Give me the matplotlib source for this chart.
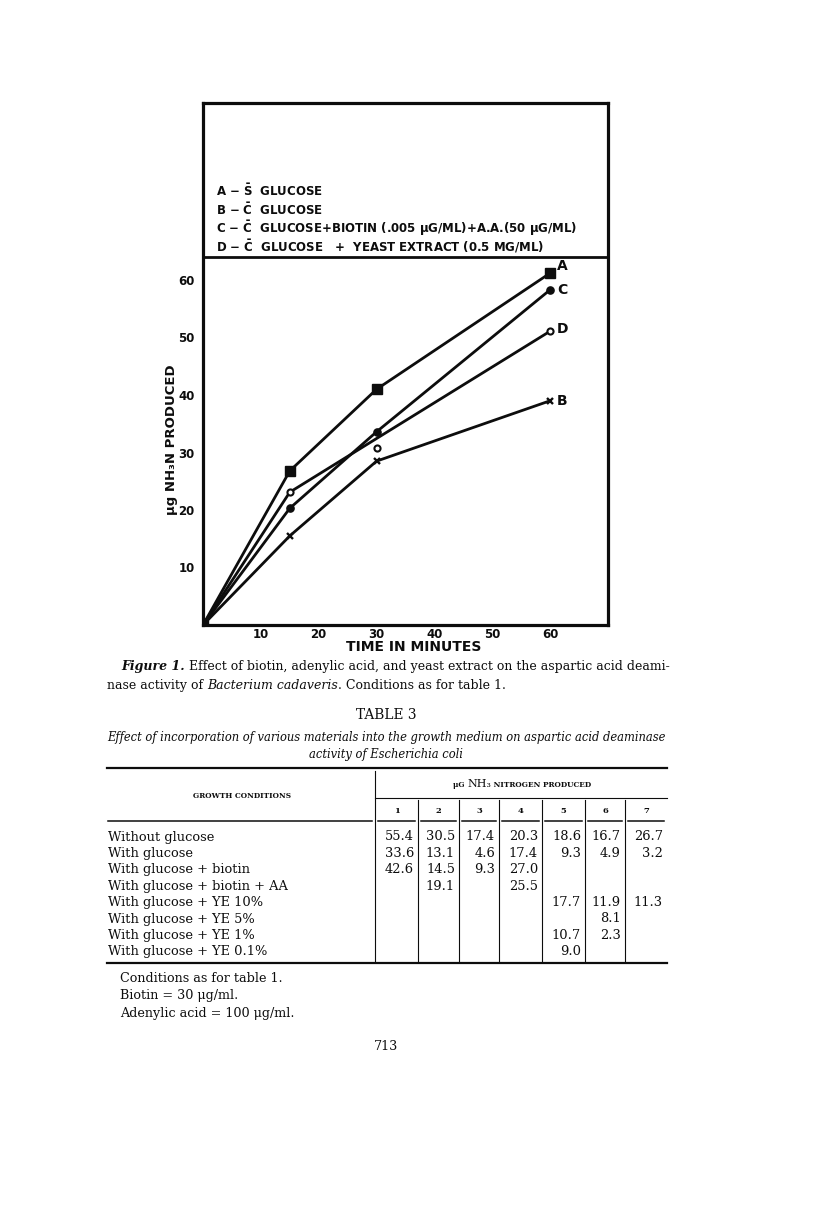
import matplotlib
matplotlib.use('Agg')
import matplotlib.pyplot as plt
from matplotlib.lines import Line2D

W, H = 816, 1215
INK = '#0d0d0d'

# ---- figure 1 data ----
time_min = [0, 15, 30, 60]
nh3_a = [0, 26.8, 41.0, 61.2]   # without glucose
nh3_b = [0, 15.5, 28.5, 39.0]   # with glucose
nh3_c = [0, 20.3, 33.6, 58.3]   # glucose + biotin + A.A.
nh3_d = [0, 23.1, 30.8, 51.1]   # glucose + yeast extract
d_line_idx = [0, 1, 3]          # the D curve is drawn past its 30 min point

x_ticks = [10, 20, 30, 40, 50, 60]
y_ticks = [10, 20, 30, 40, 50, 60]

S_BAR = r"$\mathbf{\bar{S}}$"
C_BAR = r"$\mathbf{\bar{C}}$"
legend_lines = [
    "A \u2212 " + S_BAR + "  GLUCOSE",
    "B \u2212 " + C_BAR + "  GLUCOSE",
    "C \u2212 " + C_BAR + "  GLUCOSE+BIOTIN (.005 \u03bcG/ML)+A.A.(50 \u03bcG/ML)",
    "D \u2212 " + C_BAR + "  GLUCOSE   +  YEAST EXTRACT (0.5 MG/ML)",
]

# ---- table 3 data ----
conditions = [
    "Without glucose",
    "With glucose",
    "With glucose + biotin",
    "With glucose + biotin + AA",
    "With glucose + YE 10%",
    "With glucose + YE 5%",
    "With glucose + YE 1%",
    "With glucose + YE 0.1%",
]
col_labels = ["1", "2", "3", "4", "5", "6", "7"]
values = [
    ["55.4", "30.5", "17.4", "20.3", "18.6", "16.7", "26.7"],
    ["33.6", "13.1", "4.6", "17.4", "9.3", "4.9", "3.2"],
    ["42.6", "14.5", "9.3", "27.0", "", "", ""],
    ["", "19.1", "", "25.5", "", "", ""],
    ["", "", "", "", "17.7", "11.9", "11.3"],
    ["", "", "", "", "", "8.1", ""],
    ["", "", "", "", "10.7", "2.3", ""],
    ["", "", "", "", "9.0", "", ""],
]
footnotes = ["Conditions as for table 1.",
             "Biotin = 30 \u03bcg/ml.",
             "Adenylic acid = 100 \u03bcg/ml."]

plt.rcParams['mathtext.fontset'] = 'dejavusans'


def px(x):
    return x / W


def py(y):
    return 1 - y / H


fig = plt.figure(figsize=(W / 100, H / 100), dpi=100)
fig.patch.set_facecolor('white')
renderer = fig.canvas.get_renderer()

SANS = 'DejaVu Sans'
SERIF = 'DejaVu Serif'

# ---------------- the chart ----------------
ax = fig.add_axes([px(203), py(625), px(608) - px(203), py(103) - py(625)])
ax.set_xlim(0, 70)
ax.set_ylim(0, 522 / 5.75)
for s in ax.spines.values():
    s.set_linewidth(2.3)
    s.set_color(INK)
ax.axhline(64, color=INK, lw=2.0)

lw = 2.0
ax.plot(time_min, nh3_a, color=INK, lw=lw, marker='s', ms=7, mfc=INK, mec=INK)
ax.plot(time_min, nh3_b, color=INK, lw=lw, marker='x', ms=5, mew=1.7, mec=INK)
ax.plot(time_min, nh3_c, color=INK, lw=lw, marker='o', ms=5.2, mfc=INK, mec=INK)
ax.plot([time_min[i] for i in d_line_idx], [nh3_d[i] for i in d_line_idx],
        color=INK, lw=lw)
ax.plot(time_min[1:], nh3_d[1:], ls='none', marker='o', ms=4.4, mfc='white',
        mec=INK, mew=1.5)

for lab, ys, dy in [("A", nh3_a, 1.2), ("C", nh3_c, 0), ("D", nh3_d, 0.4), ("B", nh3_b, 0)]:
    ax.annotate(lab, (time_min[-1], ys[-1] + dy), xytext=(5, 0),
                textcoords='offset points', ha='left', va='center',
                fontsize=10, fontweight='bold', family=SANS, color=INK)

ax.set_xticks(x_ticks)
ax.set_yticks(y_ticks)
ax.set_xticklabels([str(v) for v in x_ticks])
ax.set_yticklabels([str(v) for v in y_ticks])
ax.tick_params(axis='both', length=0, labelsize=8.5, colors=INK)
ax.tick_params(axis='x', pad=2)
ax.tick_params(axis='y', pad=6)
for t in ax.get_xticklabels() + ax.get_yticklabels():
    t.set_fontweight('bold')
    t.set_family(SANS)

for i, line in enumerate(legend_lines):
    fig.text(px(216), py(191 + i * 18.5), line, ha='left', va='center',
             fontsize=8.5, fontweight='bold', family=SANS, color=INK)

fig.text(px(172), py(440), "\u03bcg NH\u2083N PRODUCED", rotation=90,
         ha='center', va='center', fontsize=9.5, fontweight='bold',
         family=SANS, color=INK)
fig.text(px(414), py(647), "TIME IN MINUTES", ha='center', va='center',
         fontsize=10, fontweight='bold', family=SANS, color=INK)


# ---------------- text helpers ----------------
def run_width(parts):
    objs = [fig.text(0, 0, s, **kw) for s, kw in parts]
    w = sum(o.get_window_extent(renderer).width for o in objs)
    for o in objs:
        o.remove()
    return w


def put_runs(x, y, parts, ha='left'):
    objs = [fig.text(0, py(y), s, va='baseline', color=INK, **kw) for s, kw in parts]
    widths = [o.get_window_extent(renderer).width for o in objs]
    x0 = x - sum(widths) / 2 if ha == 'center' else x
    for o, w in zip(objs, widths):
        o.set_x(px(x0))
        x0 += w


def fitted(parts_fn, target):
    w = run_width(parts_fn(10))
    return 10 * target / w


# caption
def cap1(fs):
    return [("Figure 1.", dict(family=SERIF, style='italic', fontweight='bold', fontsize=fs)),
            (" Effect of biotin, adenylic acid, and yeast extract on the aspartic acid deami-",
             dict(family=SERIF, fontsize=fs))]


cfs = fitted(cap1, 670 - 121)
put_runs(121, 670, cap1(cfs))
put_runs(107, 689, [("nase activity of ", dict(family=SERIF, fontsize=cfs)),
                    ("Bacterium cadaveris", dict(family=SERIF, style='italic', fontsize=cfs)),
                    (". Conditions as for table 1.", dict(family=SERIF, fontsize=cfs))])

fig.text(px(386), py(715), "TABLE 3", ha='center', va='center', family=SERIF,
         fontsize=cfs * 1.1, color=INK)


def title1(fs):
    return [("Effect of incorporation of various materials into the growth medium on aspartic acid deaminase",
             dict(family=SERIF, style='italic', fontsize=fs))]


tfs = fitted(title1, 669 - 107)
put_runs(107, 741, title1(tfs))
put_runs(386, 758, [("activity of Escherichia coli",
                     dict(family=SERIF, style='italic', fontsize=tfs))], ha='center')


# ---------------- table ----------------
def hline(x0, x1, y, lw=0.8):
    fig.add_artist(Line2D([px(x0), px(x1)], [py(y), py(y)], color=INK, lw=lw))


def vline(x, y0, y1, lw=0.8):
    fig.add_artist(Line2D([px(x), px(x)], [py(y0), py(y1)], color=INK, lw=lw))


left, right = 107, 667
divider = 375
col_edges = [375, 418, 459, 499, 542, 585, 625, 667]
row_y0, row_dy = 837, 16.4

hline(left, right, 768, lw=1.6)
hline(left, right, 963, lw=1.6)
vline(divider, 771, 962)
hline(divider, right, 798)
hline(left + 1, divider - 3, 821, lw=1.1)
for j in range(len(col_labels)):
    a, b = col_edges[j], col_edges[j + 1]
    hline(a + 3, b - 3, 821, lw=1.1)
    if j > 0:
        vline(a, 800, 962)
    fig.text(px((a + b) / 2), py(811), col_labels[j], ha='center', va='center',
             family=SERIF, fontweight='bold', fontsize=6, color=INK)

fig.text(px(242), py(796), "GROWTH CONDITIONS", ha='center', va='center',
         family=SERIF, fontweight='bold', fontsize=5.3, color=INK)
put_runs(522, 787, [("\u03bcG ", dict(family=SERIF, fontweight='bold', fontsize=5.3)),
                    ("NH\u2083", dict(family=SERIF, fontsize=8)),
                    (" NITROGEN PRODUCED", dict(family=SERIF, fontweight='bold', fontsize=5.3))],
         ha='center')

body_fs = 9.4
for i, cond in enumerate(conditions):
    yy = row_y0 + i * row_dy
    fig.text(px(108), py(yy), cond, ha='left', va='center', family=SERIF,
             fontsize=body_fs, color=INK)
    for j, v in enumerate(values[i]):
        if v:
            fig.text(px(col_edges[j + 1] - 4), py(yy), v, ha='right', va='center',
                     family=SERIF, fontsize=body_fs, color=INK)

for k, note in enumerate(footnotes):
    fig.text(px(120), py(979 + k * 17), note, ha='left', va='center',
             family=SERIF, fontsize=9.2, color=INK)

fig.text(px(386), py(1047), "713", ha='center', va='center', family=SERIF,
         fontsize=9.2, color=INK)

fig.savefig('out.png', dpi=100, facecolor='white')
